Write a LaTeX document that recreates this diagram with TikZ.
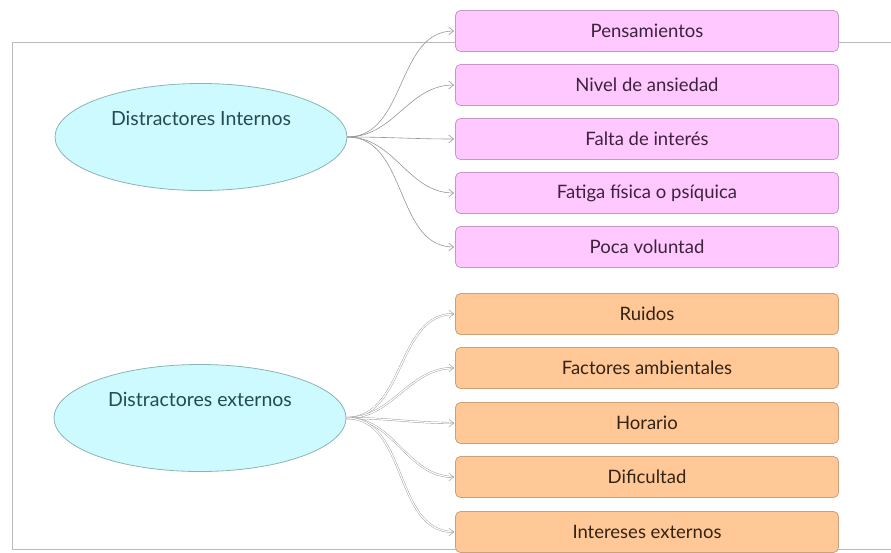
\documentclass[tikz,border=0pt]{standalone}
\usepackage{fontspec}
\setmainfont{Lato}
\usepackage{tikz}
\usetikzlibrary{shapes.geometric,arrows.meta,positioning}

\definecolor{framegray}{RGB}{185,185,185}
\definecolor{linegray}{RGB}{150,150,150}
\definecolor{ellfill}{RGB}{204,250,255}
\definecolor{elldraw}{RGB}{140,180,180}
\definecolor{elltext}{RGB}{35,75,80}
\definecolor{pinkfill}{RGB}{255,200,255}
\definecolor{pinkdraw}{RGB}{200,150,200}
\definecolor{pinktext}{RGB}{60,35,60}
\definecolor{orangefill}{RGB}{255,200,150}
\definecolor{orangedraw}{RGB}{205,160,120}
\definecolor{orangetext}{RGB}{50,35,20}

\begin{document}
\begin{tikzpicture}[
        x=1pt, y=-1pt, every node/.style={font=\fontsize{18.5}{21}\selectfont},
        topic/.style={ellipse, draw=elldraw, thick, fill=ellfill, minimum width=292pt, minimum height=107pt, inner sep=0pt},
        topiclabel/.style={text=elltext, font=\fontsize{19.5}{22}\selectfont},
        boxint/.style={rectangle, draw=pinkdraw, thick, fill=pinkfill, text=pinktext, minimum width=383pt, minimum height=41pt, rounded corners=5pt},
        boxext/.style={rectangle, draw=orangedraw, thick, fill=orangefill, text=orangetext, minimum width=383pt, minimum height=41pt, rounded corners=5pt},
        arrow/.style={-{Straight Barb[length=5pt,width=8pt]}, draw=linegray, semithick, shorten >=1pt},
        twinarrow/.style={arrow, double=white, double distance=1.2pt, thin}
        ]
        \useasboundingbox (0,0) rectangle (891,552);

        % Outer frame (behind everything)
        \draw[framegray, semithick] (891,42) -- (12,42) -- (12,549) -- (891,549);

        % Internal distractors
        \node[topic, label={[topiclabel, yshift=19pt]center:Distractores Internos}] (internos) at (201,137) {};
        \node[boxint] (pens) at (647,31) {Pensamientos};
        \node[boxint] (ansiedad) at (647,85) {Nivel de ansiedad};
        \node[boxint] (interes) at (647,139) {Falta de interés};
        \node[boxint] (fatiga) at (647,193) {Fatiga física o psíquica};
        \node[boxint] (voluntad) at (647,247) {Poca voluntad};

        % External distractors
        \node[topic, label={[topiclabel, yshift=19pt]center:Distractores externos}] (externos) at (200,418) {};
        \node[boxext] (ruidos) at (647,314) {Ruidos};
        \node[boxext] (ambiente) at (647,368) {Factores ambientales};
        \node[boxext] (horario) at (647,423) {Horario};
        \node[boxext] (dificultad) at (647,477) {Dificultad};
        \node[boxext] (externas) at (647,532) {Intereses externos};

        % Connections
        \draw[arrow] (internos.east) to[out=0, in=180] (pens.west);
        \draw[arrow] (internos.east) to[out=0, in=180] (ansiedad.west);
        \draw[arrow] (internos.east) to[out=0, in=180] (interes.west);
        \draw[arrow] (internos.east) to[out=0, in=180] (fatiga.west);
        \draw[arrow] (internos.east) to[out=0, in=180] (voluntad.west);

        \draw[twinarrow] (externos.east) to[out=0, in=180] (ruidos.west);
        \draw[twinarrow] (externos.east) to[out=0, in=180] (ambiente.west);
        \draw[twinarrow] (externos.east) to[out=0, in=180] (horario.west);
        \draw[twinarrow] (externos.east) to[out=0, in=180] (dificultad.west);
        \draw[twinarrow] (externos.east) to[out=0, in=180] (externas.west);

    \end{tikzpicture}
\end{document}
